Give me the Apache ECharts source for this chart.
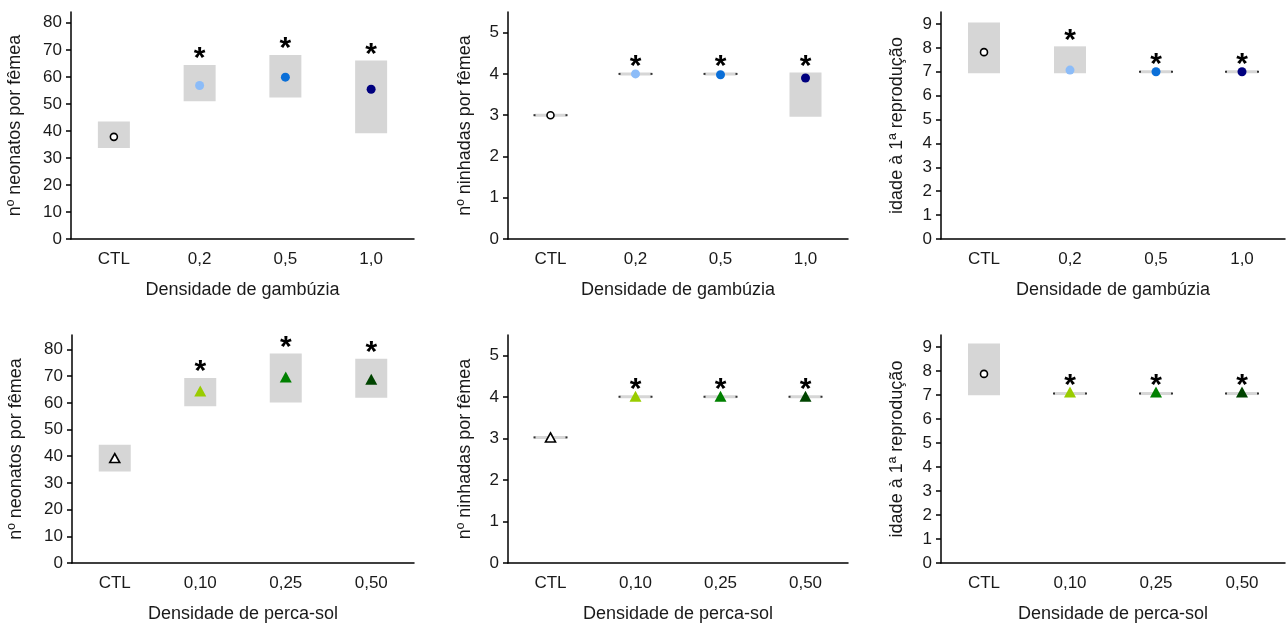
<!DOCTYPE html>
<html>
<head>
<meta charset="utf-8">
<script src="https://cdn.jsdelivr.net/npm/echarts@6/dist/echarts.min.js"></script>
<style>
  html, body { margin: 0; padding: 0; background: #fff; }
  #chart { width: 1286px; height: 623px; }
</style>
</head>
<body>
<div id="chart"></div>
<script>
// categories
const catsGamb = ['CTL', '0,2', '0,5', '1,0'];
const catsPerca = ['CTL', '0,10', '0,25', '0,50'];

// tick values
const ticksNeo = [0, 10, 20, 30, 40, 50, 60, 70, 80];
const ticksNinh = [0, 1, 2, 3, 4, 5];
const ticksIdade = [0, 1, 2, 3, 4, 5, 6, 7, 8, 9];

// gambúzia – neonatos
const neoGambLow = [34.2, 51.5, 52.9, 39.7];
const neoGambHigh = [42.9, 63.8, 67.5, 65.5];
const neoGambMean = [37.8, 56.8, 59.9, 55.4];
const neoGambSig = [0, 1, 1, 1];

// gambúzia – ninhadas
const ninhGambLow = [3, 4, 4, 3];
const ninhGambHigh = [3, 4, 4, 4];
const ninhGambMean = [3, 4, 3.98, 3.9];
const ninhGambSig = [0, 1, 1, 1];

// gambúzia – idade 1ª reprodução
const idadeGambLow = [7, 7, 7, 7];
const idadeGambHigh = [9, 8, 7, 7];
const idadeGambMean = [7.82, 7.07, 7, 7];
const idadeGambSig = [0, 1, 1, 1];

// perca-sol – neonatos
const neoPercaLow = [34.8, 59.3, 60.7, 62.5];
const neoPercaHigh = [43.7, 68.7, 77.9, 75.9];
const neoPercaMean = [39.3, 64.4, 69.7, 68.8];
const neoPercaSig = [0, 1, 1, 1];

// perca-sol – ninhadas
const ninhPercaLow = [3.03, 4.01, 4.01, 4.01];
const ninhPercaHigh = [3.03, 4.01, 4.01, 4.01];
const ninhPercaMean = [3.03, 4.02, 4.02, 4.02];
const ninhPercaSig = [0, 1, 1, 1];

// perca-sol – idade 1ª reprodução
const idadePercaLow = [7.05, 7.06, 7.06, 7.06];
const idadePercaHigh = [9.08, 7.06, 7.06, 7.06];
const idadePercaMean = [7.88, 7.12, 7.12, 7.12];
const idadePercaSig = [0, 1, 1, 1];

const gambColors = ['#ffffff', '#8cbcf8', '#0b6fd8', '#00007f'];
const percaColors = ['#ffffff', '#99cc00', '#008000', '#004400'];

const FONT = '"Liberation Sans", Arial, sans-serif';
const BOX_GRAY = '#d6d6d6';
const TXT = '#1a1a1a';

const chart = echarts.init(document.getElementById('chart'));

// panel layout
const panels = [
  { grid: { left: 71, top: 12, width: 343, height: 227 }, cats: catsGamb, xName: 'Densidade de gambúzia',
    yName: 'nº neonatos por fêmea', yMax: 84, ticks: ticksNeo, nameGap: 47,
    low: neoGambLow, high: neoGambHigh, mean: neoGambMean, sig: neoGambSig, colors: gambColors, shape: 'circle', ctlShape: 'circle' },
  { grid: { left: 508, top: 12, width: 340, height: 227 }, cats: catsGamb, xName: 'Densidade de gambúzia',
    yName: 'nº ninhadas por fêmea', yMax: 5.5, ticks: ticksNinh, nameGap: 34,
    low: ninhGambLow, high: ninhGambHigh, mean: ninhGambMean, sig: ninhGambSig, colors: gambColors, shape: 'circle', ctlShape: 'circle' },
  { grid: { left: 941, top: 12, width: 344, height: 227 }, cats: catsGamb, xName: 'Densidade de gambúzia',
    yName: 'idade à 1ª reprodução', yMax: 9.5, ticks: ticksIdade, nameGap: 35,
    low: idadeGambLow, high: idadeGambHigh, mean: idadeGambMean, sig: idadeGambSig, colors: gambColors, shape: 'circle', ctlShape: 'circle' },
  { grid: { left: 72, top: 335, width: 342, height: 228 }, cats: catsPerca, xName: 'Densidade de perca-sol',
    yName: 'nº neonatos por fêmea', yMax: 85.4, ticks: ticksNeo, nameGap: 47,
    low: neoPercaLow, high: neoPercaHigh, mean: neoPercaMean, sig: neoPercaSig, colors: percaColors, shape: 'triangle', ctlShape: 'triangle' },
  { grid: { left: 508, top: 335, width: 340, height: 228 }, cats: catsPerca, xName: 'Densidade de perca-sol',
    yName: 'nº ninhadas por fêmea', yMax: 5.5, ticks: ticksNinh, nameGap: 34,
    low: ninhPercaLow, high: ninhPercaHigh, mean: ninhPercaMean, sig: ninhPercaSig, colors: percaColors, shape: 'triangle', ctlShape: 'triangle' },
  { grid: { left: 941, top: 335, width: 344, height: 228 }, cats: catsPerca, xName: 'Densidade de perca-sol',
    yName: 'idade à 1ª reprodução', yMax: 9.5, ticks: ticksIdade, nameGap: 35,
    low: idadePercaLow, high: idadePercaHigh, mean: idadePercaMean, sig: idadePercaSig, colors: percaColors, shape: 'triangle', ctlShape: 'circle' }
];

// gray range box + asterisk
const renderBox = (params, api) => {
  const i = api.value(0);
  const lo = api.coord([i, api.value(1)]);
  const hi = api.coord([i, api.value(2)]);
  const w = 32;
  const top = hi[1] - 1.5;
  const bottom = lo[1] + 1.5;
  const cx = lo[0];
  const children = [{
    type: 'rect',
    shape: { x: cx - w / 2, y: top, width: w, height: bottom - top },
    style: { fill: BOX_GRAY }
  }];
  if (bottom - top < 4) {
    // flat range: small dark end caps
    const my = (top + bottom) / 2;
    children.push({ type: 'rect', shape: { x: cx - w / 2 - 1, y: my - 1, width: 2, height: 2 }, style: { fill: '#333' } });
    children.push({ type: 'rect', shape: { x: cx + w / 2 - 1, y: my - 1, width: 2, height: 2 }, style: { fill: '#333' } });
  }
  if (api.value(3)) {
    children.push({
      type: 'text',
      x: cx, y: top - 6,
      style: { text: '*', fontSize: 30, fontWeight: 'bold', fontFamily: FONT, fill: '#000', align: 'center', verticalAlign: 'middle' }
    });
  }
  return { type: 'group', children };
};

const grid = [], xAxis = [], yAxis = [], series = [];

panels.forEach((p, k) => {
  grid.push(Object.assign({ outerBoundsMode: 'none', containLabel: false }, p.grid));
  xAxis.push({
    type: 'category',
    gridIndex: k,
    data: p.cats,
    boundaryGap: true,
    name: p.xName,
    nameLocation: 'middle',
    nameGap: 42,
    nameTextStyle: { fontFamily: FONT, fontSize: 18, color: TXT },
    axisLine: { lineStyle: { color: '#000', width: 1.5 } },
    axisTick: { alignWithLabel: true, length: 5, lineStyle: { color: '#000', width: 1.5 } },
    axisLabel: { fontFamily: FONT, fontSize: 17, color: TXT, margin: 12 },
    splitLine: { show: false }
  });
  yAxis.push({
    type: 'value',
    gridIndex: k,
    min: 0,
    max: p.yMax,
    name: p.yName,
    nameLocation: 'middle',
    nameGap: p.nameGap,
    nameTextStyle: { fontFamily: FONT, fontSize: 18, color: TXT },
    axisLine: { show: true, lineStyle: { color: '#000', width: 1.5 } },
    axisTick: { show: true, length: 5, customValues: p.ticks, lineStyle: { color: '#000', width: 1.5 } },
    axisLabel: { fontFamily: FONT, fontSize: 17, color: TXT, margin: 9, customValues: p.ticks },
    splitLine: { show: false }
  });
  series.push({
    type: 'custom',
    xAxisIndex: k,
    yAxisIndex: k,
    renderItem: renderBox,
    encode: { x: 0, y: [1, 2] },
    data: p.cats.map((c, i) => [i, p.low[i], p.high[i], p.sig[i]]),
    z: 2,
    silent: true
  });
  series.push({
    type: 'scatter',
    xAxisIndex: k,
    yAxisIndex: k,
    z: 3,
    silent: true,
    data: p.cats.map((c, i) => {
      const isCtl = i === 0;
      const shape = isCtl ? p.ctlShape : p.shape;
      const size = shape === 'triangle' ? (isCtl ? [10, 9] : [12, 11]) : (isCtl ? 7 : 9);
      return {
        value: [i, p.mean[i]],
        symbol: shape,
        symbolSize: size,
        itemStyle: isCtl
          ? { color: '#fff', borderColor: '#000', borderWidth: 1.6, opacity: 1 }
          : { color: p.colors[i], borderWidth: 0, opacity: 1 }
      };
    })
  });
});

chart.setOption({
  backgroundColor: '#fff',
  animation: false,
  grid, xAxis, yAxis, series
});
</script>
</body>
</html>
